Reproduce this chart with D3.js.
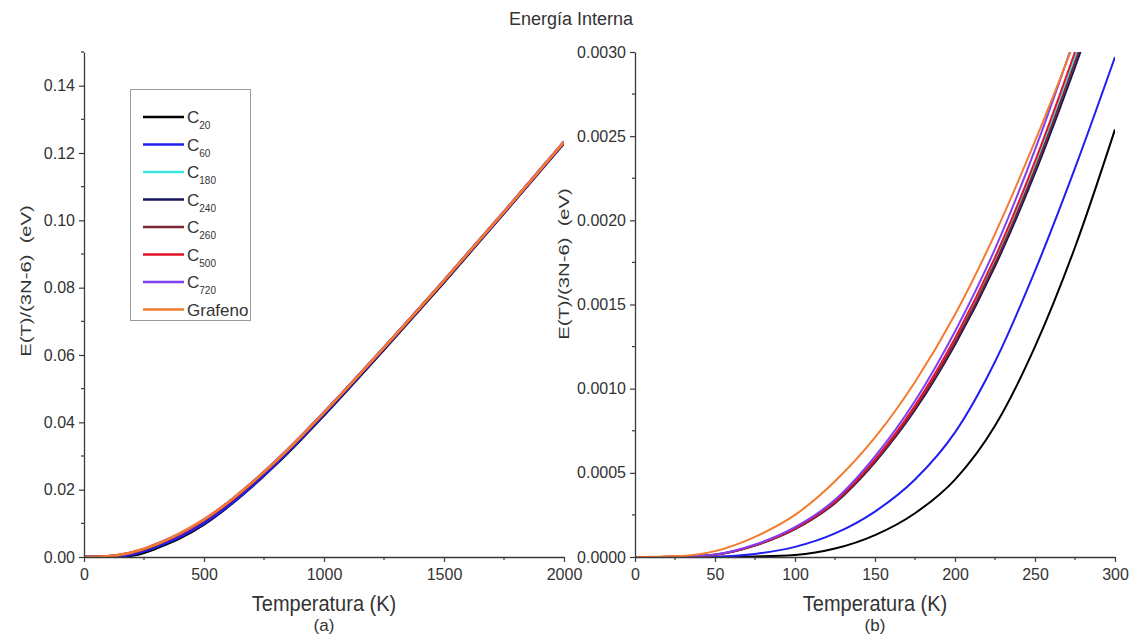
<!DOCTYPE html>
<html>
<head>
<meta charset="utf-8">
<script src="https://cdn.jsdelivr.net/npm/d3@7"></script>
<style>
  html, body { margin: 0; padding: 0; background: #fff; }
  svg { display: block; font-family: "Liberation Sans", Arial, sans-serif; }
</style>
</head>
<body>
<svg id="chart" width="1140" height="637"></svg>
<script>
// ---------------- DATA ----------------
const title = "Energía Interna";
const xTitle = "Temperatura (K)";
const yTitle = "E(T)/(3N-6)  (eV)";

const seriesBase = ["C", "C", "C", "C", "C", "C", "C", "Grafeno"];
const seriesSub  = ["20", "60", "180", "240", "260", "500", "720", ""];
const seriesColors = ["#000000", "#1f1fef", "#3fe6e6", "#16165a", "#7a2630", "#e8112d", "#7f3ff2", "#f47b2e"];

// temperatures (K)
const temps = [0, 25, 50, 75, 100, 125, 150, 175, 200, 225, 250, 275, 300,
               400, 500, 600, 700, 800, 900, 1000, 1250, 1500, 1750, 2000];

// E(T)/(3N-6) in eV
const eC20  = [0, 0, 0, 0.000003, 0.000012, 0.00005, 0.00013, 0.00026, 0.00046, 0.00078, 0.00125, 0.00184, 0.00254,
               0.0056, 0.0097, 0.0149, 0.0209, 0.0275, 0.0346, 0.0421, 0.0616, 0.0816, 0.1021, 0.1229];
const eC60  = [0, 0, 0.000002, 0.000018, 0.00006, 0.00014, 0.00027, 0.00046, 0.00074, 0.00116, 0.00170, 0.00231, 0.00297,
               0.0060, 0.0100, 0.0151, 0.0211, 0.0277, 0.0348, 0.0423, 0.0618, 0.0818, 0.1022, 0.1230];
const eC180 = [0, 0.000001, 0.000014, 0.000069, 0.000168, 0.000327, 0.000574, 0.000891, 0.001287, 0.001762, 0.002327, 0.00297, 0.003663,
               0.0068, 0.0110, 0.0161, 0.0220, 0.0285, 0.0355, 0.0429, 0.0622, 0.0821, 0.1025, 0.1233];
const eC240 = [0, 0.000001, 0.000013, 0.000068, 0.000165, 0.00032, 0.000563, 0.000873, 0.001261, 0.001727, 0.00228, 0.00291, 0.003589,
               0.0067, 0.0109, 0.0160, 0.0219, 0.0284, 0.0354, 0.0428, 0.0621, 0.0820, 0.1024, 0.1232];
const eC260 = [0, 0.000001, 0.000014, 0.000069, 0.000167, 0.000323, 0.000568, 0.000882, 0.001274, 0.001744, 0.002303, 0.00294, 0.003626,
               0.0067, 0.0109, 0.0160, 0.0219, 0.0284, 0.0354, 0.0428, 0.0621, 0.0820, 0.1024, 0.1232];
const eC500 = [0, 0.000001, 0.000014, 0.00007, 0.00017, 0.00033, 0.00058, 0.0009, 0.0013, 0.00178, 0.00235, 0.0030, 0.0037,
               0.0068, 0.0110, 0.0161, 0.0220, 0.0285, 0.0355, 0.0429, 0.0622, 0.0821, 0.1025, 0.1233];
const eC720 = [0, 0.000001, 0.000015, 0.000074, 0.000177, 0.00034, 0.000598, 0.000927, 0.00134, 0.00183, 0.00242, 0.00309, 0.00381,
               0.0069, 0.0111, 0.0162, 0.0221, 0.0286, 0.0356, 0.0430, 0.0623, 0.0822, 0.1026, 0.1234];
const eGraf = [0, 0.000004, 0.000035, 0.00012, 0.00025, 0.00045, 0.00071, 0.00104, 0.00144, 0.00192, 0.00247, 0.00307, 0.00371,
               0.0071, 0.0112, 0.0162, 0.0221, 0.0285, 0.0355, 0.0429, 0.0622, 0.0821, 0.1025, 0.1233];

const seriesValues = [eC20, eC60, eC180, eC240, eC260, eC500, eC720, eGraf];

// axis ticks
const leftXTicks = [0, 500, 1000, 1500, 2000];
const leftXMinor = [250, 750, 1250, 1750];
const leftYTicks = [0, 0.02, 0.04, 0.06, 0.08, 0.10, 0.12, 0.14];
const leftYMinor = [0.01, 0.03, 0.05, 0.07, 0.09, 0.11, 0.13, 0.15];
const rightXTicks = [0, 50, 100, 150, 200, 250, 300];
const rightXMinor = [25, 75, 125, 175, 225, 275];
const rightYTicks = [0, 0.0005, 0.0010, 0.0015, 0.0020, 0.0025, 0.0030];
const rightYMinor = [0.00025, 0.00075, 0.00125, 0.00175, 0.00225, 0.00275];

// ---------------- DRAW ----------------
const svg = d3.select("#chart");
const axisColor = "#3a3a3a";
const textColor = "#333";

svg.append("text").attr("x", 571).attr("y", 25)
  .attr("text-anchor", "middle").attr("font-size", 18).attr("fill", textColor)
  .text(title);

function panel(cfg) {
  const x = d3.scaleLinear().domain(cfg.xDomain).range([cfg.left, cfg.right]);
  const y = d3.scaleLinear().domain(cfg.yDomain).range([cfg.bottom, cfg.top]);
  const g = svg.append("g");

  const clipId = "clip-" + cfg.id;
  svg.append("defs").append("clipPath").attr("id", clipId)
    .append("rect").attr("x", cfg.left).attr("y", cfg.top)
    .attr("width", cfg.right - cfg.left).attr("height", cfg.bottom - cfg.top);

  // lines
  const lines = g.append("g").attr("clip-path", `url(#${clipId})`);
  seriesValues.forEach((vals, i) => {
    const pts = temps.map((t, k) => [t, vals[k]]).filter(p => p[0] <= cfg.xDomain[1]);
    lines.append("path")
      .attr("d", d3.line().x(d => x(d[0])).y(d => y(d[1])).curve(d3.curveMonotoneX)(pts))
      .attr("fill", "none").attr("stroke", seriesColors[i]).attr("stroke-width", cfg.lw);
  });

  // x axis
  const xa = g.append("g").attr("transform", `translate(0,${cfg.bottom})`)
    .call(d3.axisBottom(x).tickValues(cfg.xTicks).tickSize(5).tickSizeOuter(0).tickFormat(d3.format("d")));
  xa.append("g").selectAll("line").data(cfg.xMinor).join("line")
    .attr("x1", d => x(d)).attr("x2", d => x(d)).attr("y1", 0).attr("y2", 3);
  // y axis
  const ya = g.append("g").attr("transform", `translate(${cfg.left},0)`)
    .call(d3.axisLeft(y).tickValues(cfg.yTicks).tickSize(5).tickSizeOuter(0).tickFormat(d3.format(cfg.yFmt)));
  ya.append("g").selectAll("line").data(cfg.yMinor).join("line")
    .attr("y1", d => y(d)).attr("y2", d => y(d)).attr("x1", 0).attr("x2", -3);

  [xa, ya].forEach(a => {
    a.selectAll("path.domain").attr("stroke", axisColor).attr("stroke-width", 1.3);
    a.selectAll("line").attr("stroke", axisColor).attr("stroke-width", 1.2);
    a.selectAll("text").attr("font-size", 16).attr("fill", textColor)
      .attr("font-family", "'Liberation Sans', Arial, sans-serif");
  });
  xa.selectAll(".tick text").attr("dy", "0.95em");
  ya.selectAll(".tick text").attr("dx", "-1px");

  const cx = (cfg.left + cfg.right) / 2;
  g.append("text").attr("transform", `translate(${cx},611) scale(1,1.1)`).attr("text-anchor", "middle")
    .attr("font-size", 20).attr("fill", textColor).text(xTitle);
  g.append("text").attr("x", cx).attr("y", 631).attr("text-anchor", "middle")
    .attr("font-size", 17).attr("fill", textColor).text(cfg.tag);
  g.append("text")
    .attr("transform", `translate(${cfg.yTitleX},${cfg.yTitleY}) rotate(-90) scale(1.35,1)`)
    .attr("text-anchor", "middle").attr("font-size", 15).attr("fill", textColor)
    .attr("xml:space", "preserve").style("white-space", "pre").text(yTitle);
}

panel({ id: "a", left: 84, right: 564, top: 52, bottom: 557,
  xDomain: [0, 2000], yDomain: [0, 0.15], xTicks: leftXTicks, xMinor: leftXMinor,
  yTicks: leftYTicks, yMinor: leftYMinor, yFmt: ".2f", tag: "(a)", yTitleX: 31, yTitleY: 281, lw: 2.6 });

panel({ id: "b", left: 635, right: 1115, top: 52, bottom: 557,
  xDomain: [0, 300], yDomain: [0, 0.003], xTicks: rightXTicks, xMinor: rightXMinor,
  yTicks: rightYTicks, yMinor: rightYMinor, yFmt: ".4f", tag: "(b)", yTitleX: 569, yTitleY: 264, lw: 2 });

// legend
const leg = svg.append("g");
leg.append("rect").attr("x", 130.5).attr("y", 89.5).attr("width", 120).attr("height", 231)
  .attr("fill", "#fff").attr("stroke", "#9a9a9a").attr("stroke-width", 1);
seriesBase.forEach((b, i) => {
  const yy = 117 + i * 27.5;
  leg.append("line").attr("x1", 143).attr("x2", 184).attr("y1", yy).attr("y2", yy)
    .attr("stroke", seriesColors[i]).attr("stroke-width", 2.4);
  const t = leg.append("text").attr("x", 187).attr("y", yy + 6).attr("font-size", 17).attr("fill", textColor);
  t.append("tspan").text(b);
  if (seriesSub[i]) t.append("tspan").attr("dy", 6).attr("font-size", 10).text(seriesSub[i]);
});
</script>
</body>
</html>
